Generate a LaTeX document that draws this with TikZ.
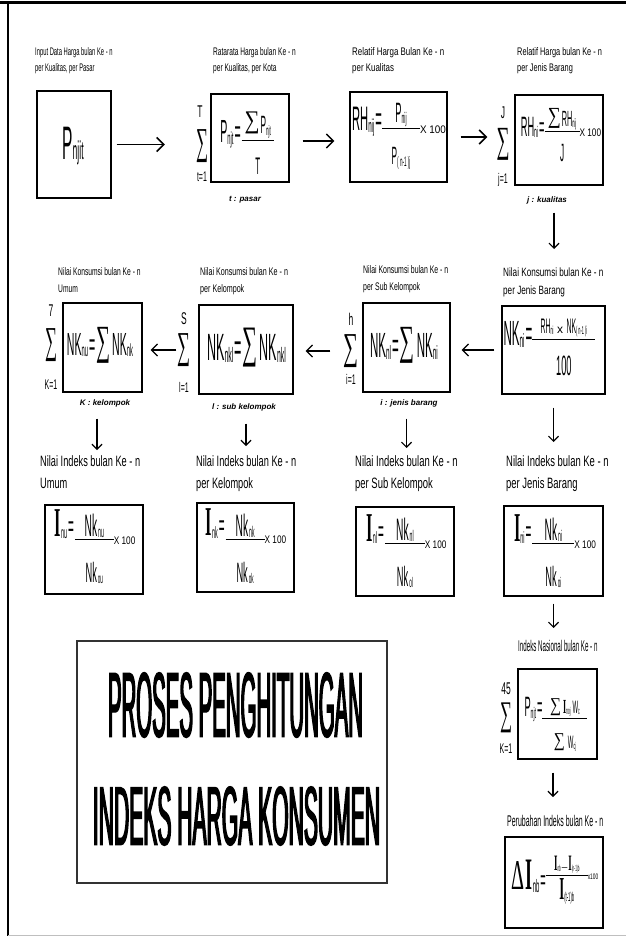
\documentclass[tikz,border=0pt]{standalone}
\usepackage{fontspec}
\usepackage{graphicx}
\usetikzlibrary{arrows.meta}
\setmainfont{Liberation Sans}
\newfontfamily\lf{Liberation Sans}
\newfontfamily\ff[FakeStretch=0.33]{Liberation Sans}
\newfontfamily\limf[FakeStretch=0.5]{Liberation Sans}
\newfontfamily\sgf{Liberation Serif}
\newfontfamily\sif[FakeStretch=0.4]{Liberation Serif}
\newfontfamily\tf[FakeStretch=0.26,FakeBold=1.6]{Liberation Sans}

% font size shortcut
\newcommand\fs[1]{\fontsize{#1}{#1}\selectfont}
% small lowered index
\newcommand\loscale{0.55}
\newcommand\lo[2][-0.06em]{\raisebox{#1}{\scalebox{\loscale}{#2}}}
\newcommand\los[1]{\raisebox{-0.04em}{\scalebox{0.5}{#1}}}
% summation sign of given width, height and drop below the baseline
\newcommand\Sg[3]{\raisebox{-#3}{\resizebox*{#1}{#2}{\sgf\raisebox{\depth}{∑}}}}
% fraction of fixed width; the bar sits on the baseline
\newcommand\fbar[3]{\vtop{\vbox{\hbox to #1{\hss#2\hss}\kern1.5pt\hrule height 0.8pt}\kern1.5pt\hbox to #1{\hss#3\hss}}}
% small factor text
\newcommand\xc[2][0.75]{{\lf\fs{11}\scalebox{#1}[1]{#2}}}
% serif capital I
\newcommand\SI{{\sif\bfseries I}}
% condensed captions
\newcommand\labii[3]{\scalebox{#1}[1]{\vbox{\hbox{#2}\hbox{#3}}}}
\newcommand\labi[2]{\scalebox{#1}[1]{#2}}

\tikzset{
  box/.style={draw, line width=1.2pt, inner sep=0pt},
  fml/.style={inner sep=0pt, font=\ff},
  lab/.style={inner sep=0pt, anchor=north west, font=\lf\fontsize{11}{16}\selectfont},
  labb/.style={lab, font=\lf\fontsize{11}{17.5}\selectfont},
  labL/.style={lab, font=\lf\fontsize{15}{22}\selectfont},
  note/.style={inner sep=0pt, font=\lf\bfseries\itshape\fontsize{8}{8}\selectfont},
  sig/.style={inner sep=0pt},
  limu/.style={inner sep=0pt, font=\limf\fontsize{17}{17}\selectfont},
  liml/.style={inner sep=0pt, font=\limf\fontsize{14}{14}\selectfont},
  harr/.style={line width=1.5pt, -{Straight Barb[length=7pt,width=14pt]}},
  rarr/.style={line width=1.3pt, -{Straight Barb[length=6pt,width=12pt]}},
  darr/.style={line width=1.2pt, -{Straight Barb[length=5pt,width=10pt]}},
}

\begin{document}
\begin{tikzpicture}[x=1pt,y=-1pt]
\useasboundingbox (0,0) rectangle (626,936);

% page frame
\draw[line width=3pt] (0,3) -- (626,3);
\draw[line width=2pt] (8,2) -- (8,936);
\draw[black!25, line width=1pt] (8,935) -- (626,935);

% ---------- row 1 ----------
\node[lab] (L1) at (35,47) {\labii{0.53}{Input Data Harga bulan Ke - n}{per Kualitas, per Pasar}};
\node[lab] (L2) at (213,47) {\labii{0.6}{Ratarata Harga bulan Ke - n}{per Kualitas, per Kota}};
\node[lab] (L3) at (352,47) {\labii{0.72}{Relatif Harga Bulan Ke - n}{per Kualitas}};
\node[lab] (L4) at (517,47) {\labii{0.67}{Relatif Harga bulan Ke - n}{per Jenis Barang}};

\node[box, minimum width=74pt, minimum height=107pt] (B1) at (74,144.5) {};
\node[box, minimum width=78pt, minimum height=88pt] (B2) at (250,138) {};
\node[box, minimum width=97pt, minimum height=90pt] (B3) at (398.5,137) {};
\node[box, minimum width=88pt, minimum height=90pt] (B4) at (559,140) {};

\node[fml] (F1) at (73,146) {\fs{47}P\lo[0pt]{njit}};
\node[fml] (F2) at (247,143) {\fs{32}P\lo{njt}\kern1pt=\kern1pt\raisebox{2pt}{\fbar{32pt}{\fs{25}\Sg{15pt}{22pt}{0pt}\kern1pt P\lo{njt}}{\fs{24}T}}};
\node[fml] (F3) at (399,136) {\fs{34}RH\lo{nij}\kern1pt=\raisebox{1pt}{\fbar{38pt}{\fs{28}P\lo{nij}}{\fs{25}P\lo{( n-1 )j}}}\raisebox{-3pt}{\xc[0.9]{X 100}}};
\node[fml] (F4) at (561,135) {\fs{28}RH\lo{ni}\kern1pt=\raisebox{4pt}{\fbar{35pt}{\fs{22}\Sg{13pt}{20pt}{2pt}\kern1pt RH\lo{nij}}{\fs{25}J}}\xc{X 100}};

\node[sig] (S2) at (202,146) {\resizebox*{12pt}{33pt}{\sgf ∑}};
\node[limu] (S2u) at (200,112) {T};
\node[liml] (S2l) at (202,177) {t=1};
\node[sig] (S4) at (503,144) {\resizebox*{13pt}{32pt}{\sgf ∑}};
\node[limu] (S4u) at (503,113) {J};
\node[liml] (S4l) at (503,180) {j=1};

\node[note] (N2) at (245,200) {t : pasar};
\node[note] (N4) at (547,200) {j : kualitas};

\draw[harr, shorten <=5pt, shorten >=31pt] (B1.east) -- (B1.east -| S2.west);
\coordinate (a2s) at ([yshift=-3pt]B2.east);
\draw[harr, shorten <=13pt, shorten >=15pt] (a2s) -- (a2s -| B3.west);
\draw[harr, shorten <=13pt, shorten >=9pt] (B3.east) -- (B3.east -| S4.west);

% ---------- row 2 ----------
\node[labb] (L5) at (58,267) {\labii{0.61}{Nilai Konsumsi bulan Ke - n}{Umum}};
\node[labb] (L6) at (200,267) {\labii{0.65}{Nilai Konsumsi bulan Ke - n}{per Kelompok}};
\node[labb] (L7) at (363,265) {\labii{0.63}{Nilai Konsumsi bulan Ke - n}{per Sub Kelompok}};
\node[labb, font=\lf\fontsize{12}{17.5}\selectfont] (L8) at (503,268) {\labii{0.68}{Nilai Konsumsi bulan Ke - n}{per Jenis Barang}};

\node[box, minimum width=103pt, minimum height=88pt] (B5) at (553.5,350) {};
\node[box, minimum width=87pt, minimum height=89pt] (B6) at (406.5,347.5) {};
\node[box, minimum width=94pt, minimum height=89pt] (B7) at (246,349.5) {};
\node[box, minimum width=79pt, minimum height=89pt] (B8) at (102.5,347.5) {};

\node[fml] (F5) at (549.5,347.5) {\fs{35}NK\lo{ni}\kern1pt=\raisebox{6pt}{\fbar{63pt}{\fs{21}RH\lo{ni}\,{\lf\fs{12}x}\,NK\lo{( n-1 )i}}{\fs{28}100}}};
\node[fml] (F6) at (404,345) {\fs{35}NK\lo{nl}\kern1pt=\kern1pt\Sg{15pt}{36pt}{6pt}\kern2pt NK\lo{ni}};
\node[fml] (F7) at (246.5,347.5) {\fs{38}NK\lo{nkl}\kern1pt=\kern1pt\Sg{15pt}{39pt}{7pt}\kern2pt NK\lo{nkl}};
\node[fml] (F8) at (100,345) {\fs{32}NK\lo{nu}\kern1pt=\kern1pt\Sg{14pt}{36pt}{8pt}\kern2pt NK\lo{nk}};

\node[sig] (S6) at (351,351) {\resizebox*{15pt}{33pt}{\sgf ∑}};
\node[limu] (S6u) at (351,319) {h};
\node[liml] (S6l) at (351,379) {i=1};
\node[sig] (S7) at (184,350) {\resizebox*{13pt}{33pt}{\sgf ∑}};
\node[limu] (S7u) at (184,319) {S};
\node[liml] (S7l) at (184,387) {l=1};
\node[sig] (S8) at (51,345) {\resizebox*{12pt}{33pt}{\sgf ∑}};
\node[limu] (S8u) at (51,311) {7};
\node[liml] (S8l) at (51,385) {K=1};

\node[note] (N6) at (409,403) {i : jenis barang};
\node[note] (N7) at (244,407) {l : sub kelompok};
\node[note] (N8) at (105,403) {K : kelompok};

\coordinate (a4s) at ([xshift=-5pt]B4.south);
\draw[darr, shorten <=27pt, shorten >=19pt] (a4s) -- (a4s |- L8.north);
\draw[rarr, shorten <=7pt, shorten >=11pt] (B5.west) -- (B5.west -| B6.east);
\draw[rarr, shorten <=13pt, shorten >=12pt] (S6.west) -- (S6.west -| B7.east);
\draw[rarr, shorten <=1pt, shorten >=8pt] (S7.west) -- (S7.west -| B8.east);

% ---------- row 3 ----------
\node[labL] (L9) at (40,455) {\labii{0.615}{Nilai Indeks bulan Ke - n}{Umum}};
\node[labL] (L10) at (196,455) {\labii{0.615}{Nilai Indeks bulan Ke - n}{per Kelompok}};
\node[labL] (L11) at (355,455) {\labii{0.63}{Nilai Indeks bulan Ke - n}{per Sub Kelompok}};
\node[labL] (L12) at (506,455) {\labii{0.63}{Nilai Indeks bulan Ke - n}{per Jenis Barang}};

\node[box, minimum width=98pt, minimum height=89pt] (B9) at (94,549.5) {};
\node[box, minimum width=97pt, minimum height=89pt] (B10) at (245.5,547.5) {};
\node[box, minimum width=98pt, minimum height=89pt] (B11) at (405,551.5) {};
\node[box, minimum width=99pt, minimum height=90pt] (B12) at (553.5,551) {};

\node[fml] (F9) at (95,546.5) {\renewcommand\loscale{0.4}\fs{41}\SI\lo{nu}\kern1pt{\fs{30}=}\kern1pt\raisebox{-4pt}{\fbar{39pt}{\fs{31}Nk\kern1pt\los{nu}}{\fs{28}Nk\kern1pt\los{ou}}}\raisebox{-8pt}{\xc{X 100}}};
\node[fml] (F10) at (246,546) {\renewcommand\loscale{0.4}\fs{41}\SI\lo{nk}\kern1pt{\fs{30}=}\kern1pt\raisebox{-4pt}{\fbar{39pt}{\fs{31}Nk\kern1pt\los{nk}}{\fs{28}Nk\kern1pt\los{ok}}}\raisebox{-8pt}{\xc{X 100}}};
\node[fml] (F11) at (406.5,551) {\renewcommand\loscale{0.4}\fs{41}\SI\lo{nl}\kern1pt{\fs{30}=}\kern1pt\raisebox{-3pt}{\fbar{40pt}{\fs{31}Nk\kern1pt\los{nl}}{\fs{28}Nk\kern1pt\los{ol}}}\raisebox{-7pt}{\xc{X 100}}};
\node[fml] (F12) at (555,551) {\renewcommand\loscale{0.4}\fs{41}\SI\lo{ni}\kern1pt{\fs{30}=}\kern1pt\raisebox{-3pt}{\fbar{42pt}{\fs{31}Nk\kern1pt\los{ni}}{\fs{28}Nk\kern1pt\los{oi}}}\raisebox{-7pt}{\xc{X 100}}};

\coordinate (d1s) at ([xshift=-5.5pt]B8.south);
\draw[darr, shorten <=26pt, shorten >=5pt] (d1s) -- (d1s |- L9.north);
\draw[darr, shorten <=29pt, shorten >=9pt] (B7.south) -- (B7.south |- L10.north);
\draw[darr, shorten <=26pt, shorten >=7pt] (B6.south) -- (B6.south |- L11.north);
\draw[darr, shorten <=13pt, shorten >=13pt] (B5.south) -- (B5.south |- L12.north);

% ---------- national index ----------
\node[lab, font=\lf\fontsize{15.5}{16}\selectfont] (L13) at (518,640) {\labi{0.4}{Indeks Nasional bulan Ke - n}};
\node[box, minimum width=79pt, minimum height=90pt] (B13) at (557.5,714) {};
\node[fml] (F13) at (556,724.5) {\fs{28}P\lo{njt}\kern1pt=\raisebox{-2pt}{\fbar{45pt}{\fs{18}\Sg{11pt}{17pt}{2pt}\kern2pt{\fs{20}\SI}\lo{noj}\kern2pt W\lo{c}}{\fs{18}\Sg{11pt}{17pt}{2pt}\kern3pt W\lo{cj}}}};
\node[sig] (S13) at (506,718) {\resizebox*{12pt}{30pt}{\sgf ∑}};
\node[limu] (S13u) at (506,689) {45};
\node[liml] (S13l) at (506,749) {K=1};
\draw[darr, shorten <=7pt, shorten >=12pt] (B12.south) -- (B12.south |- L13.north);

% ---------- change of the index ----------
\node[lab, font=\lf\fontsize{15.5}{16}\selectfont] (L14) at (507,815) {\labi{0.45}{Perubahan Indeks bulan Ke - n}};
\node[box, minimum width=98pt, minimum height=91pt] (B14) at (554,882.5) {};
\node[fml] (F14) at (555,880) {\renewcommand\loscale{0.4}\resizebox*{13pt}{28pt}{\sgf Δ}\kern1pt{\fs{45}\SI\lo{nb}}\kern1pt{\fs{28}=}\raisebox{14pt}{\fbar{42pt}{\fs{22}\SI\lo{nb}\kern1pt{\lf\fs{10}–}\kern1pt\SI\lo{(n-1)b}}{\fs{32}\SI\lo{(t-1)b}}}\raisebox{10pt}{\xc[0.6]{\fs{8}x100}}};
\coordinate (d6s) at ([xshift=-4.5pt]B13.south);
\draw[darr, shorten <=13pt, shorten >=18pt] (d6s) -- (d6s |- L14.north);

% ---------- title ----------
\node[draw=black!80, line width=1.2pt, minimum width=310pt, minimum height=242pt, inner sep=0pt] (TB) at (232,762) {};
\node[inner sep=0pt] (T1) at (235.5,705) {\resizebox{255pt}{64pt}{\tf PROSES PENGHITUNGAN}};
\node[inner sep=0pt] (T2) at (236.5,816) {\resizebox{287pt}{58pt}{\tf INDEKS HARGA KONSUMEN}};
\end{tikzpicture}
\end{document}
